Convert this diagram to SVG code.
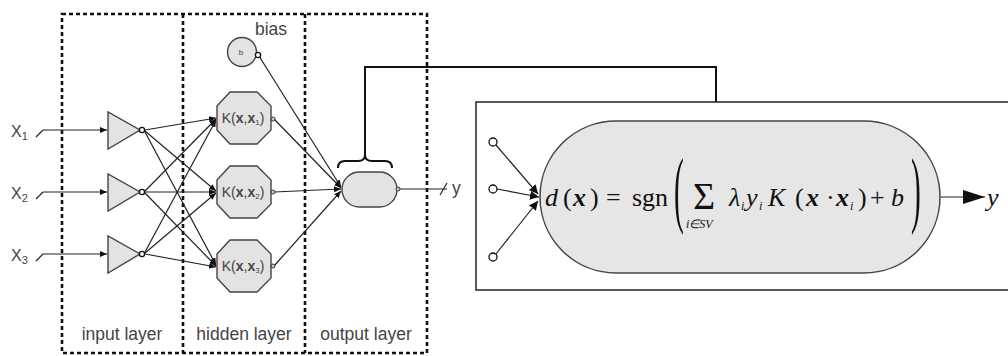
<svg xmlns="http://www.w3.org/2000/svg" width="1008" height="356" viewBox="0 0 1008 356">
<style>
.dash{fill:none;stroke:#111;stroke-width:2.6;stroke-dasharray:4 3}
.ln{fill:none;stroke:#222;stroke-width:1.2}
.thick{fill:none;stroke:#111;stroke-width:2}
.node{fill:#e3e3e3;stroke:#444;stroke-width:1.4}
.port{fill:#fff;stroke:#111;stroke-width:1.3}
.lbl{font-family:"Liberation Sans",Arial,sans-serif;fill:#444}
.k{font-family:"Liberation Sans",Arial,sans-serif;fill:#444}
.m{font-family:"Liberation Serif","Times New Roman",serif;fill:#111}
.mi{font-family:"Liberation Serif","Times New Roman",serif;font-size:26px;font-style:italic;fill:#111}
.mb{font-family:"Liberation Serif","Times New Roman",serif;font-size:26px;font-style:italic;font-weight:bold;fill:#111}
.ms{font-family:"Liberation Serif","Times New Roman",serif;font-size:12px;font-style:italic;fill:#111}
</style>
<defs>
<marker id="a" markerUnits="userSpaceOnUse" markerWidth="8" markerHeight="6" refX="7" refY="3" orient="auto"><path d="M0,0 L7,3 L0,6 z" fill="#111"/></marker>
<marker id="a2" markerUnits="userSpaceOnUse" markerWidth="10" markerHeight="10" refX="9" refY="4.5" orient="auto"><path d="M0,0 L9,4.5 L0,9 z" fill="#111"/></marker>
<marker id="a3" markerUnits="userSpaceOnUse" markerWidth="24" markerHeight="16" refX="22" refY="7" orient="auto"><path d="M0,0 L22,7 L0,14 z" fill="#111"/></marker>
</defs>

<g id="layers">
<rect class="dash" x="62" y="14" width="365" height="339"/>
<line class="dash" x1="183" y1="14" x2="183" y2="353"/>
<line class="dash" x1="305" y1="14" x2="305" y2="353"/>
<text class="lbl" x="122" y="340" font-size="17.5" text-anchor="middle">input layer</text>
<text class="lbl" x="244" y="340" font-size="17.5" text-anchor="middle">hidden layer</text>
<text class="lbl" x="366" y="340" font-size="17.5" text-anchor="middle">output layer</text>
</g>

<g id="connectors">
<path class="ln" d="M36,137 L43,130 M43,130 L107,130" marker-end="url(#a)"/>
<path class="ln" d="M36,199 L43,192 M43,192 L107,192" marker-end="url(#a)"/>
<path class="ln" d="M36,261 L43,254 M43,254 L107,254" marker-end="url(#a)"/>
<line class="ln" x1="145" y1="130" x2="216" y2="118" marker-end="url(#a)"/>
<line class="ln" x1="145" y1="131" x2="216" y2="191" marker-end="url(#a)"/>
<line class="ln" x1="145" y1="132" x2="216" y2="265" marker-end="url(#a)"/>
<line class="ln" x1="145" y1="191" x2="216" y2="119" marker-end="url(#a)"/>
<line class="ln" x1="145" y1="192" x2="216" y2="192" marker-end="url(#a)"/>
<line class="ln" x1="145" y1="193" x2="216" y2="266" marker-end="url(#a)"/>
<line class="ln" x1="145" y1="252" x2="216" y2="120" marker-end="url(#a)"/>
<line class="ln" x1="145" y1="253" x2="216" y2="193" marker-end="url(#a)"/>
<line class="ln" x1="145" y1="254" x2="216" y2="267" marker-end="url(#a)"/>
<line class="ln" x1="259" y1="56" x2="341" y2="187" marker-end="url(#a)"/>
<line class="ln" x1="274" y1="119" x2="341" y2="188" marker-end="url(#a)"/>
<line class="ln" x1="274" y1="192" x2="341" y2="189" marker-end="url(#a)"/>
<line class="ln" x1="274" y1="266" x2="341" y2="191" marker-end="url(#a)"/>
<path class="ln" d="M399,189 L447,189 M440,195 L447,183"/>
<path class="thick" d="M338,168 Q338,161 345,161 L358,161 Q365,161 365,155 Q365,161 372,161 L385,161 Q392,161 392,168"/>
<path class="thick" d="M365,155 L365,67 L716,67 L716,102"/>
<line class="ln" x1="496" y1="145" x2="538" y2="194" marker-end="url(#a2)"/>
<line class="ln" x1="497" y1="189" x2="539" y2="197" marker-end="url(#a2)"/>
<line class="ln" x1="496" y1="254" x2="538" y2="201" marker-end="url(#a2)"/>
<line class="ln" x1="941" y1="197" x2="985" y2="197" stroke-width="1.5" marker-end="url(#a3)"/>
</g>

<g id="in1"><text class="lbl" x="11" y="137" font-size="16">X<tspan font-size="11" dy="3">1</tspan></text>
<polygon class="node" points="108,112 108,149 140,130"/><circle class="port" cx="142" cy="130" r="2.6"/></g>
<g id="in2"><text class="lbl" x="11" y="199" font-size="16">X<tspan font-size="11" dy="3">2</tspan></text>
<polygon class="node" points="108,174 108,211 140,192"/><circle class="port" cx="142" cy="192" r="2.6"/></g>
<g id="in3"><text class="lbl" x="11" y="261" font-size="16">X<tspan font-size="11" dy="3">3</tspan></text>
<polygon class="node" points="108,236 108,273 140,254"/><circle class="port" cx="142" cy="254" r="2.6"/></g>

<g id="bias">
<text class="lbl" x="255" y="35" font-size="17.5">bias</text>
<circle class="node" cx="242" cy="52" r="14.5"/>
<text class="k" x="241" y="55" font-size="8" text-anchor="middle">b</text>
<circle class="port" cx="258" cy="55" r="2.6" fill="#ccc"/>
</g>

<g id="h1">
<polygon class="node" points="230,92 257,92 271,106 271,130 257,144 230,144 217,130 217,106"/>
<text class="k" x="243" y="123" font-size="14" text-anchor="middle">K(<tspan font-weight="bold">x</tspan>,<tspan font-weight="bold">x</tspan><tspan font-size="8" dy="2">1</tspan><tspan dy="-2">)</tspan></text>
<circle cx="273" cy="119" r="2" fill="#ccc" stroke="#333" stroke-width="1"/>
</g>
<g id="h2">
<polygon class="node" points="230,166 257,166 271,180 271,204 257,218 230,218 217,204 217,180"/>
<text class="k" x="243" y="197" font-size="14" text-anchor="middle">K(<tspan font-weight="bold">x</tspan>,<tspan font-weight="bold">x</tspan><tspan font-size="8" dy="2">2</tspan><tspan dy="-2">)</tspan></text>
<circle cx="273" cy="192" r="2" fill="#ccc" stroke="#333" stroke-width="1"/>
</g>
<g id="h3">
<polygon class="node" points="230,240 257,240 271,254 271,278 257,292 230,292 217,278 217,254"/>
<text class="k" x="243" y="271" font-size="14" text-anchor="middle">K(<tspan font-weight="bold">x</tspan>,<tspan font-weight="bold">x</tspan><tspan font-size="8" dy="2">3</tspan><tspan dy="-2">)</tspan></text>
<circle cx="273" cy="266" r="2" fill="#ccc" stroke="#333" stroke-width="1"/>
</g>

<g id="out">
<rect class="node" x="342" y="172" width="55" height="35" rx="17.5"/>
<circle cx="398" cy="189" r="2" fill="#ccc" stroke="#333" stroke-width="1"/>
<text class="lbl" x="452" y="194" font-size="17.5">y</text>
</g>

<g id="detail">
<rect x="476" y="102" width="540" height="188" fill="none" stroke="#222" stroke-width="1.5"/>
<circle class="port" cx="493" cy="142" r="4"/>
<circle class="port" cx="493" cy="189" r="4"/>
<circle class="port" cx="493" cy="257" r="4"/>
<rect x="540" y="121" width="400" height="152" rx="76" fill="#e6e6e6" stroke="#444" stroke-width="1.5"/>
<text class="mi" x="545" y="206">d</text>
<text class="m" x="563" y="206" font-size="26">(</text>
<text class="mb" x="573" y="206">x</text>
<text class="m" x="590" y="206" font-size="26">)</text>
<text class="m" x="606" y="206" font-size="26">=</text>
<text class="m" x="632" y="206" font-size="26">sgn</text>
<text class="m" transform="translate(674,217) scale(0.35,1)" font-size="84">(</text>
<text class="m" x="693" y="209" font-size="38">Σ</text>
<text class="ms" x="686" y="228" font-size="11">i∈SV</text>
<text class="mi" x="729" y="206">λ</text>
<text class="ms" x="741" y="210">i</text>
<text class="mi" x="746" y="206">y</text>
<text class="ms" x="759" y="210">i</text>
<text class="mi" x="768" y="206">K</text>
<text class="m" x="795" y="206" font-size="26">(</text>
<text class="mb" x="806" y="206">x</text>
<text class="m" x="826" y="206" font-size="26">·</text>
<text class="mb" x="836" y="206">x</text>
<text class="ms" x="850" y="210">i</text>
<text class="m" x="858" y="206" font-size="26">)</text>
<text class="m" x="870" y="206" font-size="26">+</text>
<text class="mi" x="891" y="206">b</text>
<text class="m" transform="translate(911,217) scale(0.35,1)" font-size="84">)</text>
<text class="mi" x="987" y="206">y</text>
</g>
</svg>
